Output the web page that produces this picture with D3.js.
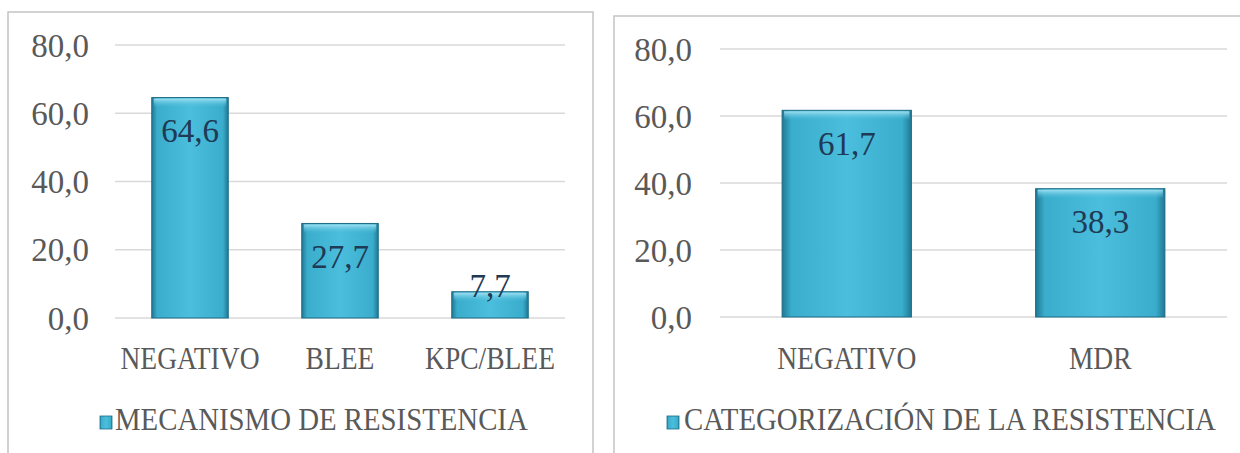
<!DOCTYPE html>
<html>
<head>
<meta charset="utf-8">
<script src="https://cdn.jsdelivr.net/npm/d3@7"></script>
<style>
  body { margin: 0; background: #fff; }
  text { font-family: "Liberation Serif", serif; }
</style>
</head>
<body>
<svg id="chart" width="1240" height="453"></svg>
<script>
// data
const catsA = ["NEGATIVO", "BLEE", "KPC/BLEE"];
const valsA = [64.6, 27.7, 7.7];
const legendA = "MECANISMO DE RESISTENCIA";

const catsB = ["NEGATIVO", "MDR"];
const valsB = [61.7, 38.3];
const legendB = "CATEGORIZACIÓN DE LA RESISTENCIA";

const yTicks = [0, 20, 40, 60, 80];

const svg = d3.select("#chart");
const defs = svg.append("defs");

// bar gradient, darker at the edges
const grad = defs.append("linearGradient").attr("id", "barGrad")
  .attr("x1", "0").attr("x2", "1").attr("y1", "0").attr("y2", "0");
grad.append("stop").attr("offset", "0").attr("stop-color", "#1f7894");
grad.append("stop").attr("offset", "0.07").attr("stop-color", "#3aaccc");
grad.append("stop").attr("offset", "0.5").attr("stop-color", "#4cbedd");
grad.append("stop").attr("offset", "0.93").attr("stop-color", "#3aaccc");
grad.append("stop").attr("offset", "1").attr("stop-color", "#1f7894");

const bevel = defs.append("linearGradient").attr("id", "bevel")
  .attr("x1", "0").attr("x2", "0").attr("y1", "0").attr("y2", "1");
bevel.append("stop").attr("offset", "0").attr("stop-color", "#9fe0f0");
bevel.append("stop").attr("offset", "1").attr("stop-color", "#4cbedd").attr("stop-opacity", 0);

const fmt = v => d3.format(".1f")(v).replace(".", ",");

function drawChart(cfg) {
  const g = svg.append("g");

  // panel frame
  g.append("rect")
    .attr("x", cfg.box[0]).attr("y", cfg.box[1])
    .attr("width", cfg.box[2]).attr("height", cfg.box[3])
    .attr("fill", "#fff").attr("stroke", "#c4c4c4").attr("stroke-width", 1.5);

  const x = d3.scaleBand().domain(cfg.cats).range(cfg.xr).paddingInner(0.49).paddingOuter(0.245);
  const y = d3.scaleLinear().domain([0, 80]).range(cfg.yr);

  // gridlines
  g.selectAll(".grid").data(yTicks).enter().append("line")
    .attr("x1", cfg.xr[0]).attr("x2", cfg.xr[1])
    .attr("y1", d => y(d)).attr("y2", d => y(d))
    .attr("stroke", "#d9d9d9").attr("stroke-width", 1.5);

  // y axis labels
  const yAxis = g.append("g")
    .attr("transform", "translate(" + cfg.labX + ",0)")
    .call(d3.axisLeft(y).tickValues(yTicks).tickFormat(fmt).tickSize(0).tickPadding(0));
  yAxis.select(".domain").remove();
  yAxis.selectAll("text")
    .attr("font-family", "Liberation Serif").attr("font-size", 33)
    .attr("fill", "#595959").attr("dy", "0.34em");

  // x axis labels (narrowed a bit, like the original font)
  const xAxis = g.append("g")
    .attr("transform", "translate(0," + cfg.catY + ")")
    .call(d3.axisBottom(x).tickSize(0).tickPadding(0));
  xAxis.select(".domain").remove();
  xAxis.selectAll("text")
    .attr("font-family", "Liberation Serif").attr("font-size", 32)
    .attr("fill", "#595959").attr("dy", "0").attr("y", 0)
    .attr("transform", "scale(0.86,1)");

  const data = cfg.cats.map((c, i) => ({ c: c, v: cfg.vals[i] }));

  // bars
  const bars = g.selectAll(".bar").data(data).enter().append("g");
  bars.append("rect")
    .attr("x", d => x(d.c)).attr("width", x.bandwidth())
    .attr("y", d => y(d.v)).attr("height", d => y(0) - y(d.v))
    .attr("fill", "url(#barGrad)").attr("stroke", "#1d6c85").attr("stroke-width", 1);
  bars.append("rect")
    .attr("x", d => x(d.c) + 2).attr("width", x.bandwidth() - 4)
    .attr("y", d => y(d.v) + 1).attr("height", 9)
    .attr("fill", "url(#bevel)");

  // value labels, inside end
  bars.append("text")
    .attr("x", d => x(d.c) + x.bandwidth() / 2)
    .attr("y", d => Math.min(y(d.v) + 33, y(0) - 33))
    .attr("dy", "0.35em")
    .attr("text-anchor", "middle")
    .attr("font-size", 33).attr("fill", "#1e3a55")
    .text(d => fmt(d.v));

  // legend
  const lg = g.append("g").attr("transform", "translate(" + cfg.legX + "," + cfg.legY + ")");
  lg.append("rect").attr("x", 0).attr("y", -14).attr("width", 12).attr("height", 13)
    .attr("fill", "url(#barGrad)").attr("stroke", "#1d6c85").attr("stroke-width", 0.8);
  lg.append("text")
    .attr("transform", "translate(" + cfg.legGap + ",0) scale(0.9,1)")
    .attr("font-size", 32).attr("fill", "#595959")
    .text(cfg.legend);
}

drawChart({
  box: [8, 12, 585, 460],
  cats: catsA, vals: valsA, legend: legendA,
  xr: [115, 565], yr: [318, 45],
  labX: 89, catY: 369, legX: 100, legY: 430, legGap: 15
});

drawChart({
  box: [614, 16, 640, 460],
  cats: catsB, vals: valsB, legend: legendB,
  xr: [720, 1227], yr: [317, 49],
  labX: 692, catY: 369, legX: 667, legY: 430, legGap: 17
});
</script>
</body>
</html>
